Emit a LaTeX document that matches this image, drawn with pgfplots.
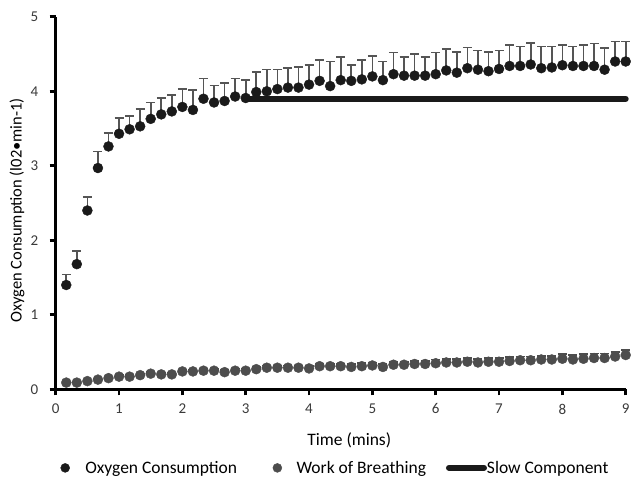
\documentclass[border=0pt]{standalone}
\usepackage{pgfplots}
\pgfplotsset{compat=1.18}
\usepackage{fontspec}
\setmainfont{Carlito}
\definecolor{oxy}{HTML}{1A1A1A}
\definecolor{wob}{HTML}{4D4D4D}
\definecolor{errc}{HTML}{555555}
\definecolor{tickc}{HTML}{3A3A3A}
\begin{document}
\begin{tikzpicture}
\begin{axis}[
  scale only axis, width=570pt, height=372.5pt,
  xmin=0, xmax=9, ymin=0, ymax=5,
  axis x line*=bottom, axis y line*=left,
  axis line style={line width=2.6pt, black, -},
  xtick={0,...,9}, ytick={0,...,5},
  tick align=outside, major tick length=6pt,
  tick style={line width=2.6pt, black},
  minor tick num=0,
  /pgf/number format/assume math mode=true,
  ticklabel style={font=\fontsize{15}{17}\selectfont, text=tickc},
  xticklabel style={yshift=-5pt},
  yticklabel style={xshift=-8pt},
  xlabel={Time (mins)}, ylabel={Oxygen Consumption (l02•min-1)},
  label style={font=\fontsize{16.5}{18}\selectfont},
  xlabel style={at={(axis description cs:0.515,-0.136)}, anchor=center, font=\fontsize{17.5}{19}\selectfont},
  ylabel style={at={(axis description cs:-0.068,0.48)}, anchor=center},
  clip=false,
  legend columns=3,
  legend style={draw=none, fill=none, at={(axis description cs:0.0084,-0.211)}, anchor=west,
    inner sep=0pt, outer sep=0pt,
    nodes={inner xsep=0pt, inner ysep=2pt, font=\fontsize{17.5}{19}\selectfont},
    /tikz/column 1/.style={column sep=15.5pt},
    /tikz/column 2/.style={column sep=35.5pt},
    /tikz/column 3/.style={column sep=14.5pt},
    /tikz/column 4/.style={column sep=20pt},
    /tikz/column 5/.style={column sep=0pt}},
]
\addplot[only marks, mark=*, mark size=5pt, mark options={fill=oxy, draw=oxy},
  legend image code/.code={\fill[oxy] (0pt,0pt) circle (4.5pt);},
  error bars/.cd, y dir=plus, y explicit,
  error bar style={line width=1.6pt, errc},
  error mark options={line width=1.6pt, errc, mark size=4.5pt, rotate=90}]
  table[x=x, y=y, y error=e] {
x y e
0.1667 1.40 0.14
0.3333 1.68 0.18
0.5 2.40 0.18
0.6667 2.97 0.22
0.8333 3.26 0.18
1.0 3.43 0.21
1.1667 3.49 0.18
1.3333 3.53 0.23
1.5 3.63 0.22
1.6667 3.69 0.22
1.8333 3.73 0.22
2.0 3.79 0.24
2.1667 3.75 0.27
2.3333 3.90 0.27
2.5 3.85 0.23
2.6667 3.87 0.24
2.8333 3.93 0.24
3.0 3.91 0.24
3.1667 3.99 0.27
3.3333 4.00 0.29
3.5 4.03 0.26
3.6667 4.05 0.26
3.8333 4.05 0.28
4.0 4.09 0.26
4.1667 4.14 0.28
4.3333 4.07 0.33
4.5 4.15 0.31
4.6667 4.14 0.21
4.8333 4.16 0.26
5.0 4.20 0.27
5.1667 4.15 0.25
5.3333 4.23 0.29
5.5 4.21 0.25
5.6667 4.21 0.29
5.8333 4.21 0.25
6.0 4.23 0.29
6.1667 4.28 0.29
6.3333 4.25 0.28
6.5 4.31 0.28
6.6667 4.29 0.26
6.8333 4.27 0.26
7.0 4.30 0.25
7.1667 4.34 0.28
7.3333 4.34 0.26
7.5 4.36 0.29
7.6667 4.31 0.29
7.8333 4.32 0.28
8.0 4.35 0.27
8.1667 4.34 0.26
8.3333 4.34 0.28
8.5 4.34 0.30
8.6667 4.29 0.29
8.8333 4.40 0.27
9.0 4.40 0.27
};
\addlegendentry{Oxygen Consumption}
\addplot[only marks, mark=*, mark size=5pt, mark options={fill=wob, draw=wob},
  legend image code/.code={\fill[wob] (0pt,0pt) circle (4.5pt);},
  error bars/.cd, y dir=plus, y explicit,
  error bar style={line width=1.6pt, wob},
  error mark options={line width=1.6pt, wob, mark size=4.5pt, rotate=90}]
  table[x=x, y=y, y error=e] {
x y e
0.1667 0.09 0.01
0.3333 0.09 0.01
0.5 0.11 0.01
0.6667 0.13 0.01
0.8333 0.15 0.02
1.0 0.17 0.02
1.1667 0.17 0.02
1.3333 0.19 0.02
1.5 0.21 0.02
1.6667 0.20 0.02
1.8333 0.20 0.02
2.0 0.24 0.02
2.1667 0.24 0.02
2.3333 0.25 0.02
2.5 0.25 0.02
2.6667 0.23 0.03
2.8333 0.25 0.03
3.0 0.25 0.03
3.1667 0.27 0.03
3.3333 0.29 0.03
3.5 0.29 0.03
3.6667 0.29 0.03
3.8333 0.29 0.03
4.0 0.28 0.03
4.1667 0.31 0.03
4.3333 0.31 0.03
4.5 0.31 0.03
4.6667 0.30 0.04
4.8333 0.31 0.04
5.0 0.32 0.04
5.1667 0.30 0.04
5.3333 0.33 0.04
5.5 0.33 0.04
5.6667 0.34 0.04
5.8333 0.34 0.04
6.0 0.35 0.05
6.1667 0.36 0.05
6.3333 0.36 0.05
6.5 0.37 0.05
6.6667 0.36 0.05
6.8333 0.37 0.05
7.0 0.37 0.05
7.1667 0.38 0.05
7.3333 0.39 0.05
7.5 0.39 0.05
7.6667 0.40 0.05
7.8333 0.40 0.05
8.0 0.41 0.06
8.1667 0.40 0.06
8.3333 0.41 0.06
8.5 0.42 0.06
8.6667 0.42 0.06
8.8333 0.44 0.06
9.0 0.46 0.07
};
\addlegendentry{Work of Breathing}
\addplot[oxy, line width=6pt, line cap=round, no marks,
  legend image code/.code={\draw[oxy, line width=5pt, line cap=round] (2.5pt,0pt) -- (32.5pt,0pt); \path (0pt,0pt) -- (35pt,0pt);}]
  coordinates {(3.0,3.9) (9.0,3.9)};
\addlegendentry{Slow Component}
\end{axis}
\pgfresetboundingbox
\path (-55.7pt,-88.7pt) rectangle (580.3pt,389.3pt);
\end{tikzpicture}
\end{document}
